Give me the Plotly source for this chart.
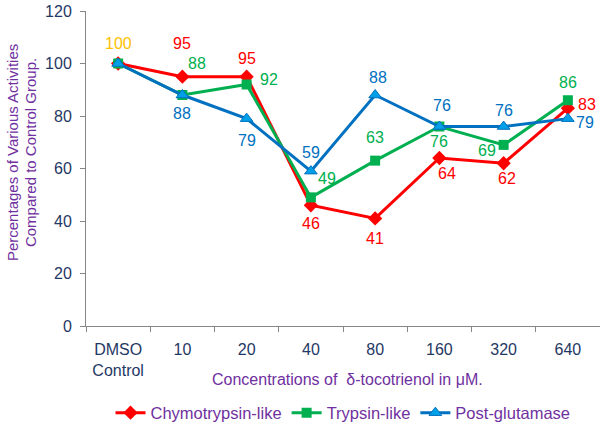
import plotly.graph_objects as go

categories = ["DMSO<br>Control", "10", "20", "40", "80", "160", "320", "640"]
chymotrypsin = [100, 95, 95, 46, 41, 64, 62, 83]
trypsin = [100, 88, 92, 49, 63, 76, 69, 86]
post_glutamase = [100, 88, 79, 59, 88, 76, 76, 79]
series_names = ["Chymotrypsin-like", "Trypsin-like", "Post-glutamase"]
y_ticks = [0, 20, 40, 60, 80, 100, 120]

FONT = "Arial, Liberation Sans, sans-serif"
RED, GREEN, BLUE = "#FF0000", "#00B050", "#0070C0"
NAVY = "#1F3864"
PURPLE = "#7030A0"

fig = go.Figure()
fig.add_trace(go.Scatter(x=categories, y=chymotrypsin, name=series_names[0], mode="lines+markers",
                         line=dict(color=RED, width=3),
                         marker=dict(symbol="diamond", size=11, color=RED)))
fig.add_trace(go.Scatter(x=categories, y=trypsin, name=series_names[1], mode="lines+markers",
                         line=dict(color=GREEN, width=3),
                         marker=dict(symbol="square", size=10, color=GREEN)))
fig.add_trace(go.Scatter(x=categories, y=post_glutamase, name=series_names[2], mode="lines+markers",
                         line=dict(color=BLUE, width=3),
                         marker=dict(symbol="triangle-up", size=11, color="#00A0E8",
                                     line=dict(color=BLUE, width=1))))

# label offsets (style): (xshift, yshift) per point, None = no label
red_off = [(0, 20), (0, 33), (0, 18), (0, -18), (0, -20), (8, -15), (3, -15), (19, 4)]
green_off = [None, (15, 32), (22, 5), (16, 19), (0, 23), (0, -15), (-17, -6), (0, 18)]
blue_off = [None, (0, -18), (0, -22), (0, 19), (3, 18), (3, 21), (0, 16), (17, -4)]

for vals, offs, col in [(chymotrypsin, red_off, RED), (trypsin, green_off, GREEN), (post_glutamase, blue_off, BLUE)]:
    for i, v in enumerate(vals):
        if offs[i] is None:
            continue
        color = "#FFC000" if (col == RED and i == 0) else col
        fig.add_annotation(x=i, y=v, xref="x", yref="y", text=str(v), showarrow=False,
                           xshift=offs[i][0], yshift=offs[i][1],
                           font=dict(family=FONT, size=16, color=color))

fig.add_annotation(x=0.5, y=0, xref="paper", yref="paper", yshift=-53, xshift=4,
                   xanchor="center", yanchor="middle",
                   text="Concentrations of  δ-tocotrienol in μM.", showarrow=False,
                   font=dict(family=FONT, size=16, color=PURPLE))
for txt, xs in [("Percentages of Various Activities", -74), ("Compared to Control Group.", -56)]:
    fig.add_annotation(x=0, y=0.549, xref="paper", yref="paper", xshift=xs,
                       xanchor="center", yanchor="middle",
                       text=txt, textangle=-90, showarrow=False,
                       font=dict(family=FONT, size=15, color=PURPLE))

fig.update_layout(
    width=600, height=426,
    margin=dict(l=86, r=0, t=11, b=100, autoexpand=False),
    paper_bgcolor="white", plot_bgcolor="white",
    font=dict(family=FONT, size=16, color=NAVY),
    showlegend=True,
    legend=dict(orientation="h", x=0.5, xanchor="center", y=-0.276, yanchor="middle",
                font=dict(family=FONT, size=16.5, color=PURPLE), itemwidth=30,
                traceorder="normal"),
)
fig.update_xaxes(type="category", range=[-0.5, 7.5], showline=True, linecolor="#868686", linewidth=1,
                 ticks="outside", tickson="boundaries", ticklen=5, tickcolor="#868686",
                 ticklabelstandoff=9,
                 showgrid=False, tickfont=dict(family=FONT, size=16, color=NAVY))
fig.update_yaxes(range=[0, 120], tickvals=y_ticks, showline=True, linecolor="#868686", linewidth=1,
                 ticks="outside", ticklen=5, tickcolor="#868686", showgrid=False, zeroline=False,
                 ticklabelstandoff=5, ticklabeloverflow="allow",
                 tickfont=dict(family=FONT, size=16, color=NAVY))

fig.write_html("out.html", config={"displayModeBar": False},
               post_script="document.body.style.margin='0';")
